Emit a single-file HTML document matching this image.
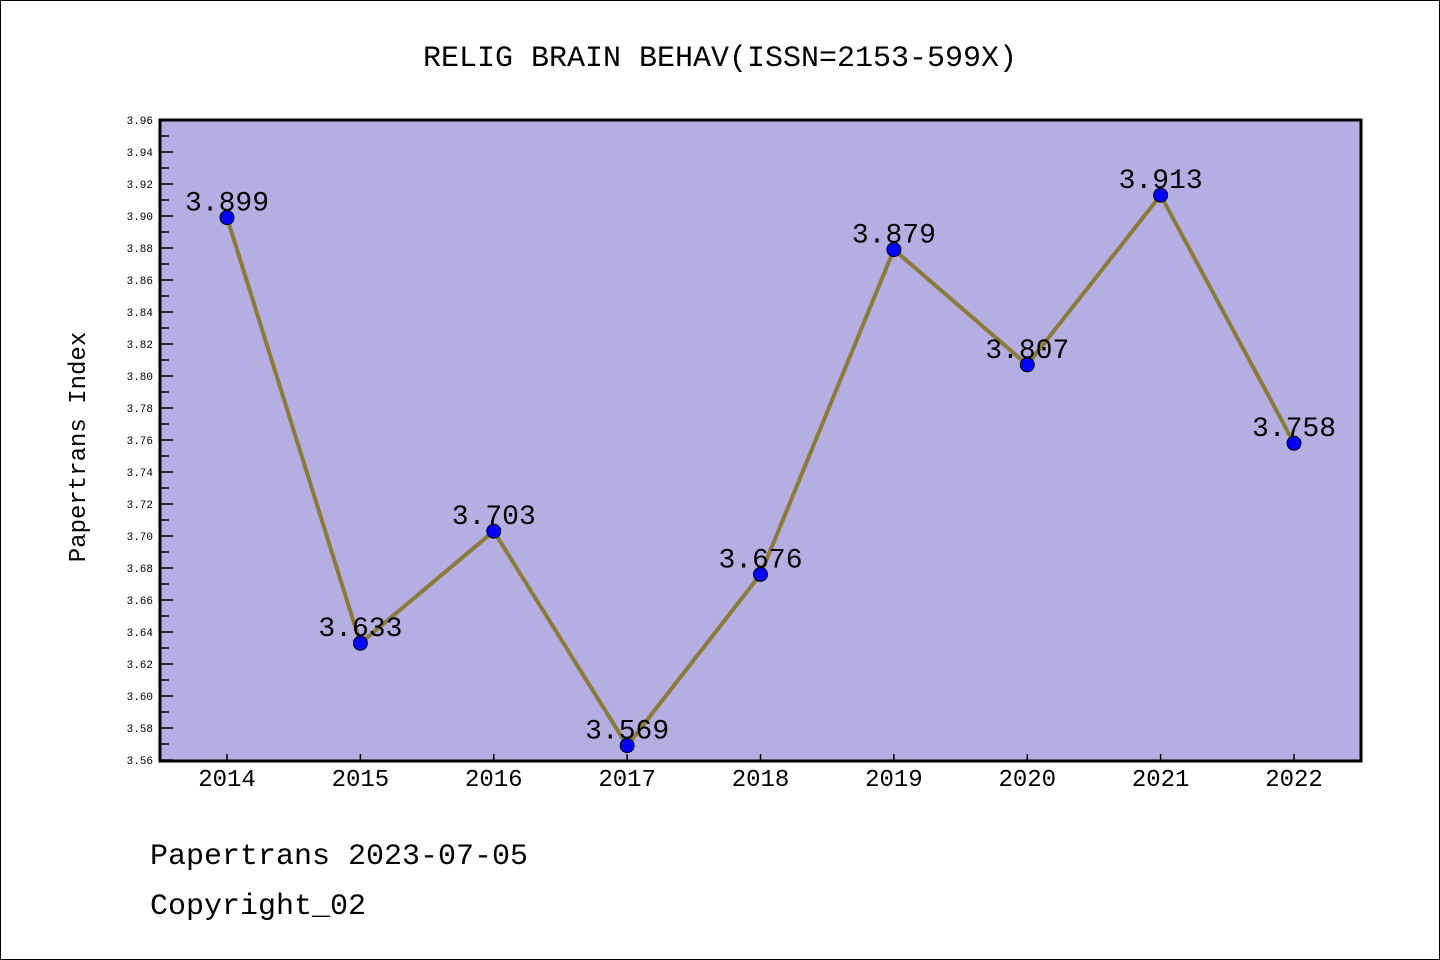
<!DOCTYPE html>
<html><head><meta charset="utf-8"><style>
body{margin:0;background:#fff}
svg{display:block}
text{font-family:"Liberation Mono","Noto Sans CJK SC",monospace}
</style></head><body>
<svg id="c" width="1440" height="960" xmlns="http://www.w3.org/2000/svg">
<rect x="0.5" y="0.5" width="1439" height="959" fill="#fff" stroke="#000"/>
<text x="720" y="66" font-size="30" text-anchor="middle">RELIG BRAIN BEHAV(ISSN=2153-599X)</text>
<rect x="160" y="120" width="1201" height="641" fill="#b5aee2" stroke="#000" stroke-width="3"/>
<text transform="translate(85,447) rotate(-90)" font-size="24" text-anchor="middle">Papertrans Index</text>
<text x="150" y="864" font-size="30">Papertrans 2023-07-05</text>
<text x="150" y="914" font-size="30">Copyright_02</text>
<g id="ax"></g><g id="marks"></g>
</svg>
<script>
const years=["2014","2015","2016","2017","2018","2019","2020","2021","2022"];
const values=[3.899,3.633,3.703,3.569,3.676,3.879,3.807,3.913,3.758];
const labels=["3.899","3.633","3.703","3.569","3.676","3.879","3.807","3.913","3.758"];
const yMin=3.56,yMax=3.96;
const NS="http://www.w3.org/2000/svg";
const x=i=>227+i*(1294-227)/(years.length-1);
const y=v=>760-(v-yMin)/(yMax-yMin)*640;
function mk(t,a,p){const e=document.createElementNS(NS,t);for(const k in a)e.setAttribute(k,a[k]);p.appendChild(e);return e;}
const ax=document.getElementById('ax'),mg=document.getElementById('marks');
for(let k=0;k<=40;k++){const v=yMin+k*0.01,yy=y(v),maj=k%2==0;
 const t=mk('line',{x1:160,x2:maj?173:169,y1:yy,y2:yy,stroke:'#000','stroke-width':1.5},ax);
 
 if(maj){const l=mk('text',{x:153,y:yy+4,'font-size':11,'text-anchor':'end','font-family':'Liberation Sans, sans-serif'},ax);l.textContent=v.toFixed(2);
 }}
years.forEach((yr,i)=>{const t=mk('line',{x1:x(i),x2:x(i),y1:760,y2:754,stroke:'#000','stroke-width':1.5},ax);
 
 const l=mk('text',{x:x(i),y:786,'font-size':24,'text-anchor':'middle','font-family':'Liberation Sans, sans-serif'},ax);l.textContent=yr;
 });
const pl=mk('polyline',{points:values.map((v,i)=>x(i)+','+y(v)).join(' '),fill:'none',stroke:'#8b7a3a','stroke-width':4},mg);

values.forEach((v,i)=>{const c=mk('circle',{cx:x(i),cy:y(v),r:7,fill:'#0000ff',stroke:'#000','stroke-width':1},mg);
 
 const l=mk('text',{x:x(i),y:y(v)-7,'font-size':28,'text-anchor':'middle'},mg);l.textContent=labels[i];
 });
</script>
</body></html>
